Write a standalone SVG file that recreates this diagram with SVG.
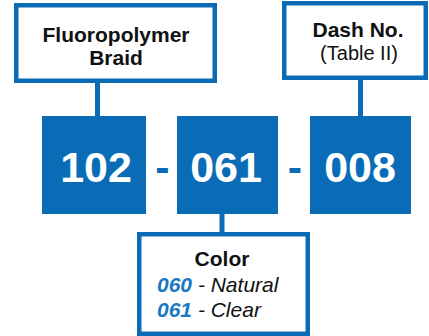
<svg xmlns="http://www.w3.org/2000/svg" width="429" height="336" viewBox="0 0 429 336">
<style>
.box{fill:#ffffff;stroke:#0a6cb6;stroke-width:4.5}
.code{fill:#0a6cb6}
.lbl{font-family:"Liberation Sans",Arial,sans-serif;font-size:21px;fill:#111111;text-anchor:middle}
.reg{font-size:20px}
.b{font-weight:bold}
.num{font-family:"Liberation Sans",Arial,sans-serif;font-size:43px;font-weight:bold;fill:#ffffff;text-anchor:middle}
.dash{font-family:"Liberation Sans",Arial,sans-serif;font-size:43px;font-weight:bold;fill:#0a6cb6;text-anchor:middle}
.opt{font-family:"Liberation Sans",Arial,sans-serif;font-size:21px;font-style:italic;fill:#111111}
.optn{font-weight:bold;fill:#1a78c2}
.conn{stroke:#0a6cb6;stroke-width:5;fill:none}
</style>
<g id="connectors">
<line class="conn" x1="97.5" y1="82" x2="97.5" y2="117"/>
<line class="conn" x1="360.5" y1="79" x2="360.5" y2="117"/>
<line class="conn" x1="222" y1="213" x2="222" y2="233"/>
</g>
<g id="node-fluoropolymer">
<rect class="box" x="16.25" y="5.25" width="198.5" height="75.5"/>
<text class="lbl b" x="116" y="41.5">Fluoropolymer</text>
<text class="lbl b" x="116" y="65">Braid</text>
</g>
<g id="node-dashno">
<rect class="box" x="284.25" y="3.25" width="141.5" height="74.5"/>
<text class="lbl b" x="358" y="36.5">Dash No.</text>
<text class="lbl reg" x="359" y="59.5">(Table II)</text>
</g>
<g id="node-102">
<rect class="code" x="42" y="116" width="104" height="98"/>
<text class="num" x="96" y="182">102</text>
</g>
<text class="dash" x="162.5" y="182">-</text>
<g id="node-061">
<rect class="code" x="177" y="116" width="101" height="98"/>
<text class="num" x="226" y="182">061</text>
</g>
<text class="dash" x="295" y="182">-</text>
<g id="node-008">
<rect class="code" x="310" y="116" width="101" height="98"/>
<text class="num" x="360" y="182">008</text>
</g>
<g id="node-color">
<rect class="box" x="139.25" y="234.25" width="168.5" height="99.5"/>
<text class="lbl b" x="222" y="266">Color</text>
<text class="opt" x="157" y="292"><tspan class="optn">060</tspan> - Natural</text>
<text class="opt" x="157" y="316.5"><tspan class="optn">061</tspan> - Clear</text>
</g>
</svg>
